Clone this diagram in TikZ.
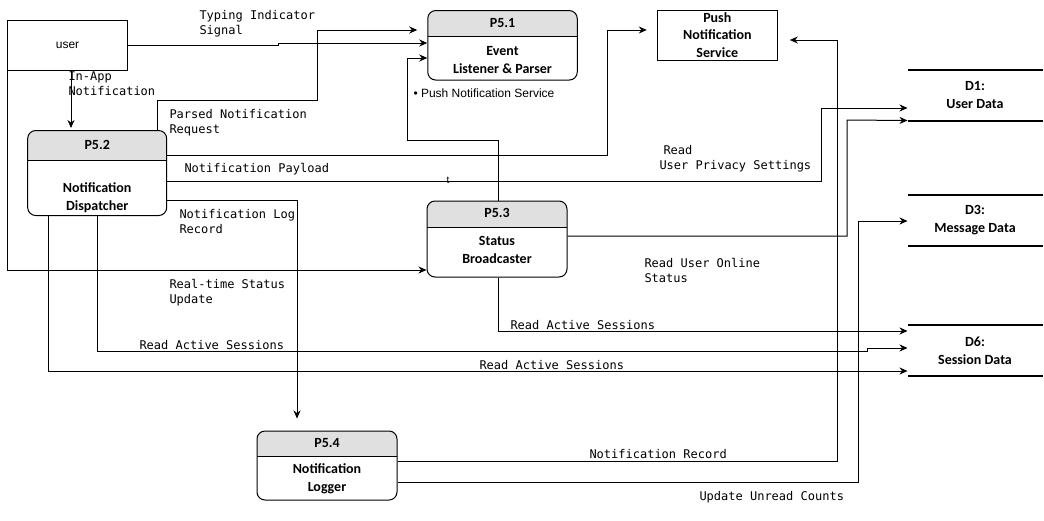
\documentclass[tikz,border=0pt]{standalone}
\usepackage{fontspec}
\setmainfont{Carlito}
\newfontfamily\monofont{DejaVu Sans Mono}
\newfontfamily\arialfont{Liberation Sans}
\usetikzlibrary{arrows.meta}
\definecolor{headgray}{HTML}{E0E0E0}

\begin{document}
\begin{tikzpicture}[
    x=1pt, y=-1pt,
    line width=1pt,
    proc/.style={draw, rounded corners=8pt, inner sep=0pt,
        path picture={
            \fill[headgray, sharp corners] (path picture bounding box.north west) rectangle ([yshift=-#1]path picture bounding box.north east);
            \draw[sharp corners] ([yshift=-#1]path picture bounding box.north west) -- ([yshift=-#1]path picture bounding box.north east);
        }},
    pid/.style={font=\bfseries\fontsize{14}{18}\selectfont, inner sep=0pt},
    pname/.style={font=\bfseries\fontsize{14}{18}\selectfont, align=center, inner sep=0pt},
    ext/.style={draw, minimum width=120pt, minimum height=50pt, inner sep=0pt},
    store/.style={minimum width=134pt, minimum height=50pt, inner sep=0pt, align=center,
        font=\bfseries\fontsize{14}{18}\selectfont},
    storeline/.style={line width=2pt},
    flow/.style={-{Stealth[length=8pt,width=7pt]}},
    lbl/.style={font=\monofont\fontsize{12}{15}\selectfont, align=left, anchor=north west, inner sep=0pt}
]
\useasboundingbox (0,0) rectangle (1044,520);

% external entities
\node[ext, font=\arialfont\fontsize{12}{14}\selectfont] (user) at (67.5,45) {user};
\node[ext, align=center, font=\bfseries\fontsize{14}{17.3}\selectfont] (pns) at (717.3,35) {Push\\Notification\\Service};

% processes
\node[proc=25.5pt, minimum width=149.5pt, minimum height=69.5pt] (p51) at (502.5,45.3) {};
\node[pid] at ([yshift=-12.7pt]p51.north) {P5.1};
\node[pname] at ([yshift=-50pt]p51.north) {Event\\Listener \& Parser};

\node[proc=29.5pt, minimum width=139pt, minimum height=85pt] (p52) at (97.2,173) {};
\node[pid] at ([yshift=-14.5pt]p52.north) {P5.2};
\node[pname] at ([yshift=-68pt]p52.north) {Notification\\Dispatcher};

\node[proc=26pt, minimum width=140pt, minimum height=76pt] (p53) at (497,239) {};
\node[pid] at ([yshift=-12.5pt]p53.north) {P5.3};
\node[pname] at ([yshift=-49.5pt]p53.north) {Status\\Broadcaster};

\node[proc=25pt, minimum width=140pt, minimum height=69pt] (p54) at (327,465.5) {};
\node[pid] at ([yshift=-12.5pt]p54.north) {P5.4};
\node[pname] at ([yshift=-48.5pt]p54.north) {Notification\\Logger};

% data stores
\node[store] (d1) at (975,95) {D1:\\User Data};
\node[store] (d3) at (975,220) {D3:\\Message Data};
\node[store] (d6) at (975,350.5) {D6:\\Session Data};
\foreach \d in {d1,d3,d6}
    \draw[storeline] (\d.north west) -- (\d.north east) (\d.south west) -- (\d.south east);

% flows
\draw[flow] (user.east) -- (278,45) -- (278,43) -- (p51.west |- 0,43);
\draw[flow, shorten >=10pt] (p52.north -| 157,0) |- (317,100) |- (p51.west |- 0,30);
\draw[flow] (p53.north -| 498,0) |- (407,140) |- (p51.west |- 0,58);
\draw[flow, shorten >=10pt] (p52.east |- 0,155) -| (607,30) -- (pns.west |- 0,30);
\draw[flow] (p52.east |- 0,181) -| (821,108) -- (d1.west |- 0,108);
\draw[flow] (p53.east |- 0,236) -| (847,120) -- (d1.south west);
\draw[flow, shorten >=12pt] (p52.east |- 0,200) -| (p54.north -| 297,0);
\draw[flow] (user.south west) |- (p53.west |- 0,270);
\draw[flow, shorten >=2pt] (user.south -| 71,0) -- (p52.north -| 71,0);
\draw[flow] (p53.south -| 498,0) |- (d6.west |- 0,331);
\draw[flow] (p52.south -| 97.5,0) |- (867,351) -- (867,348) -- (d6.west |- 0,348);
\draw[flow] (p52.south -| 48,0) |- (d6.west |- 0,371);
\draw[flow, shorten >=12pt] (p54.east |- 0,461) -| (837,40) -- (pns.east |- 0,40);
\draw[flow] (p54.east |- 0,482) -| (858,221) -- (d3.west |- 0,221);

% labels
\node[lbl] at (199,10) {Typing Indicator\\Signal};
\node[lbl] at (68,71) {In-App\\Notification};
\node[lbl] at (169,109) {Parsed Notification\\Request};
\node[lbl] at (184,163) {Notification Payload};
\node[lbl] at (659,145) {\hspace{4pt}Read\\User Privacy Settings};
\node[lbl, font=\arialfont\fontsize{10}{12}\selectfont] at (446,177) {t};
\node[lbl] at (179,209) {Notification Log\\Record};
\node[lbl] at (169,279) {Real-time Status\\Update};
\node[lbl] at (644,258) {Read User Online\\Status};
\node[lbl] at (510,320) {Read Active Sessions};
\node[lbl] at (139,340) {Read Active Sessions};
\node[lbl] at (479,360) {Read Active Sessions};
\node[lbl] at (589,449) {Notification Record};
\node[lbl] at (699,491) {Update Unread Counts};
\node[lbl, font=\arialfont\fontsize{12}{14}\selectfont] at (413,88) {• Push Notification Service};
\end{tikzpicture}
\end{document}
